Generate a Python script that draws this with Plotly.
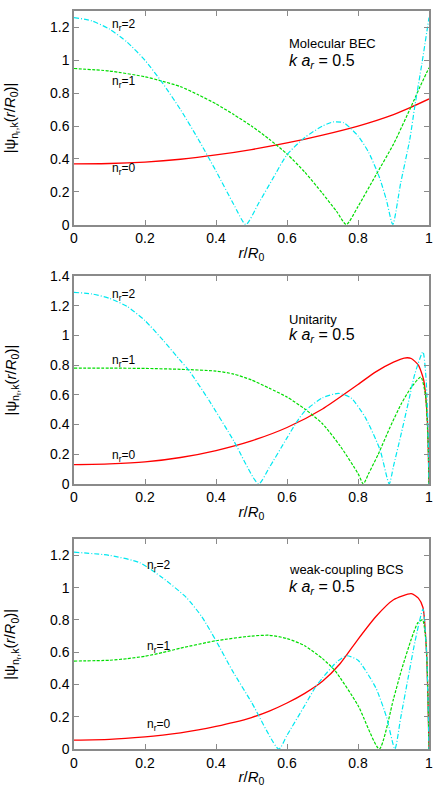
import plotly.graph_objects as go
from plotly.subplots import make_subplots

# r/R0 positions and |psi| values
# --- Molecular BEC ---
bec_r0_x = [0, 0.1, 0.2, 0.3, 0.4, 0.5, 0.6, 0.7, 0.8, 0.9, 0.95, 1.0]
bec_r0_y = [0.37, 0.372, 0.381, 0.398, 0.424, 0.457, 0.497, 0.545, 0.600, 0.670, 0.715, 0.765]
bec_r1_x = [0, 0.1, 0.2, 0.24, 0.3, 0.35, 0.4, 0.45, 0.5, 0.55, 0.6, 0.65, 0.7, 0.74, 0.767,
            0.8, 0.85, 0.9, 0.95, 0.975, 1.0]
bec_r1_y = [0.95, 0.935, 0.90, 0.878, 0.84, 0.79, 0.735, 0.67, 0.60, 0.52, 0.43, 0.32, 0.19, 0.08, 0,
            0.11, 0.30, 0.49, 0.72, 0.84, 0.955]
bec_r2_x = [0, 0.05, 0.1, 0.15, 0.2, 0.25, 0.3, 0.35, 0.4, 0.45, 0.484, 0.52, 0.56, 0.6, 0.65, 0.7,
            0.73, 0.76, 0.8, 0.83, 0.86, 0.88, 0.898, 0.92, 0.946, 0.96, 0.98, 1.0]
bec_r2_y = [1.26, 1.24, 1.19, 1.11, 1.0, 0.86, 0.70, 0.52, 0.326, 0.123, 0, 0.13, 0.28, 0.426, 0.53, 0.60,
            0.625, 0.62, 0.54, 0.44, 0.29, 0.15, 0, 0.25, 0.52, 0.72, 0.98, 1.26]

# --- Unitarity ---
uni_r0_x = [0, 0.1, 0.2, 0.3, 0.4, 0.5, 0.6, 0.7, 0.8, 0.85, 0.9, 0.93, 0.95, 0.97, 0.985, 0.995, 1.0]
uni_r0_y = [0.13, 0.135, 0.148, 0.178, 0.225, 0.29, 0.38, 0.505, 0.67, 0.755, 0.82, 0.848, 0.845, 0.80,
            0.70, 0.45, 0.0]
uni_r1_x = [0, 0.1, 0.2, 0.3, 0.4, 0.45, 0.5, 0.55, 0.6, 0.65, 0.7, 0.75, 0.8, 0.815, 0.83, 0.857,
            0.89, 0.922, 0.95, 0.977, 0.99, 0.997, 1.0]
uni_r1_y = [0.78, 0.78, 0.778, 0.772, 0.76, 0.74, 0.70, 0.645, 0.585, 0.505, 0.405, 0.255, 0.07, 0, 0.07, 0.2,
            0.38, 0.54, 0.65, 0.72, 0.6, 0.3, 0]
uni_r2_x = [0, 0.05, 0.1, 0.15, 0.2, 0.25, 0.3, 0.325, 0.381, 0.45, 0.52, 0.55, 0.6, 0.628, 0.65, 0.7,
            0.745, 0.78, 0.82, 0.862, 0.888, 0.9, 0.92, 0.941, 0.96, 0.983, 0.992, 0.997, 1.0]
uni_r2_y = [1.29, 1.28, 1.25, 1.195, 1.10, 0.97, 0.83, 0.76, 0.56, 0.29, 0, 0.11, 0.31, 0.42, 0.49, 0.58,
            0.61, 0.58, 0.45, 0.23, 0, 0.12, 0.32, 0.54, 0.74, 0.89, 0.7, 0.4, 0]

# --- weak-coupling BCS ---
bcs_r0_x = [0, 0.1, 0.2, 0.25, 0.3, 0.35, 0.4, 0.45, 0.5, 0.55, 0.6, 0.65, 0.7, 0.75, 0.8, 0.85, 0.9,
            0.95, 0.97, 0.983, 0.993, 1.0]
bcs_r0_y = [0.055, 0.06, 0.075, 0.086, 0.10, 0.118, 0.14, 0.165, 0.195, 0.235, 0.285, 0.345, 0.42, 0.53,
            0.68, 0.82, 0.925, 0.963, 0.935, 0.877, 0.6, 0]
bcs_r1_x = [0, 0.1, 0.15, 0.2, 0.25, 0.3, 0.4, 0.5, 0.55, 0.6, 0.65, 0.7, 0.735, 0.8, 0.86, 0.9, 0.922,
            0.95, 0.969, 0.982, 0.992, 0.997, 1.0]
bcs_r1_y = [0.545, 0.55, 0.56, 0.575, 0.598, 0.625, 0.671, 0.70, 0.705, 0.685, 0.64, 0.56, 0.486, 0.27, 0,
            0.31, 0.486, 0.68, 0.784, 0.80, 0.65, 0.35, 0]
bcs_r2_x = [0, 0.1, 0.185, 0.25, 0.316, 0.36, 0.4, 0.446, 0.5, 0.577, 0.6, 0.65, 0.68, 0.7, 0.74, 0.768,
            0.8, 0.85, 0.88, 0.904, 0.92, 0.945, 0.96, 0.983, 0.993, 1.0]
bcs_r2_y = [1.22, 1.2, 1.155, 1.06, 0.94, 0.82, 0.671, 0.486, 0.29, 0, 0.085, 0.27, 0.383, 0.44, 0.54, 0.578,
            0.55, 0.38, 0.2, 0, 0.19, 0.486, 0.66, 0.867, 0.6, 0]

panel_names = ["Molecular BEC", "Unitarity", "weak-coupling BCS"]
y_max = [1.3, 1.4, 1.3]

FONT = "Liberation Sans, Arial, sans-serif"
RED, GREEN, CYAN = "#ff0000", "#00dd00", "#00e8f0"
AXIS_GRAY = "#8a8a8a"

panels = [
    (bec_r0_x, bec_r0_y, bec_r1_x, bec_r1_y, bec_r2_x, bec_r2_y),
    (uni_r0_x, uni_r0_y, uni_r1_x, uni_r1_y, uni_r2_x, uni_r2_y),
    (bcs_r0_x, bcs_r0_y, bcs_r1_x, bcs_r1_y, bcs_r2_x, bcs_r2_y),
]

fig = make_subplots(rows=3, cols=1)

for i, (x0, y0, x1, y1, x2, y2) in enumerate(panels):
    row = i + 1
    fig.add_trace(go.Scatter(x=x0, y=y0, mode="lines",
                             line=dict(color=RED, width=1.3, shape="spline", smoothing=0.6)),
                  row=row, col=1)
    fig.add_trace(go.Scatter(x=x1, y=y1, mode="lines",
                             line=dict(color=GREEN, width=1.2, dash="3px,1.5px", shape="spline", smoothing=0.6)),
                  row=row, col=1)
    fig.add_trace(go.Scatter(x=x2, y=y2, mode="lines",
                             line=dict(color=CYAN, width=1.2, dash="5px,2px,1px,2px", shape="spline", smoothing=0.6)),
                  row=row, col=1)

# panel placement (paper fractions)
domains = [[0.7105, 1.0], [0.3592, 0.6408], [0.0, 0.2842]]

for i in range(3):
    row = i + 1
    fig.update_xaxes(range=[0, 1], dtick=0.2, ticks="inside", ticklen=5, tickcolor=AXIS_GRAY,
                     showline=True, linecolor=AXIS_GRAY, linewidth=1.5, mirror="ticks",
                     showgrid=False, zeroline=False,
                     tickfont=dict(family=FONT, size=14, color="black"),
                     title=dict(text="<i>r</i>/<i>R</i><sub>0</sub>", standoff=2,
                                font=dict(family=FONT, size=15, color="black")),
                     row=row, col=1)
    fig.update_yaxes(range=[0, y_max[i]], dtick=0.2, ticks="inside", ticklen=5, tickcolor=AXIS_GRAY,
                     showline=True, linecolor=AXIS_GRAY, linewidth=1.5, mirror="ticks",
                     showgrid=False, zeroline=False, domain=domains[i],
                     tickfont=dict(family=FONT, size=14, color="black"),
                     row=row, col=1)

# text labels per panel: (x, y) in data units
label_pos = [
    {"n2": (0.1, 1.216), "n1": (0.1, 0.87), "n0": (0.1, 0.338), "name": (0.6, 1.105), "ka": (0.6, 0.995)},
    {"n2": (0.1, 1.27), "n1": (0.1, 0.83), "n0": (0.1, 0.19), "name": (0.6, 1.107), "ka": (0.6, 1.0)},
    {"n2": (0.2, 1.134), "n1": (0.2, 0.63), "n0": (0.2, 0.146), "name": (0.6, 1.11), "ka": (0.6, 1.0)},
]

for i in range(3):
    xref = "x" if i == 0 else f"x{i + 1}"
    yref = "y" if i == 0 else f"y{i + 1}"
    pos = label_pos[i]
    for key, txt in [("n2", "n<sub>r</sub>=2"), ("n1", "n<sub>r</sub>=1"), ("n0", "n<sub>r</sub>=0")]:
        fig.add_annotation(x=pos[key][0], y=pos[key][1], xref=xref, yref=yref, text=txt,
                           showarrow=False, xanchor="left", yanchor="middle",
                           font=dict(family=FONT, size=12, color="black"))
    fig.add_annotation(x=pos["name"][0], y=pos["name"][1], xref=xref, yref=yref, text=panel_names[i],
                       showarrow=False, xanchor="left", yanchor="middle",
                       font=dict(family=FONT, size=13, color="black"))
    fig.add_annotation(x=pos["ka"][0], y=pos["ka"][1], xref=xref, yref=yref,
                       text="<i>k a<sub>r</sub></i> = 0.5",
                       showarrow=False, xanchor="left", yanchor="middle",
                       font=dict(family=FONT, size=16, color="black"))
    # y axis title
    fig.add_annotation(x=-0.176, y=sum(domains[i]) / 2, xref="paper", yref="paper",
                       text="|ψ<sub>n<sub>r</sub>,k</sub>(<i>r</i>/<i>R</i><sub>0</sub>)|",
                       textangle=-90, showarrow=False, xanchor="center", yanchor="middle",
                       font=dict(family=FONT, size=15, color="black"))

fig.update_layout(
    width=436, height=788,
    margin=dict(l=74, r=5, t=3, b=39),
    plot_bgcolor="white", paper_bgcolor="white",
    showlegend=False,
)

# the page body has a default 8px margin; drop it so the figure sits at the window corner
fig.write_html("out.html", config={"displayModeBar": False},
               post_script="document.body.style.margin='0px';")
